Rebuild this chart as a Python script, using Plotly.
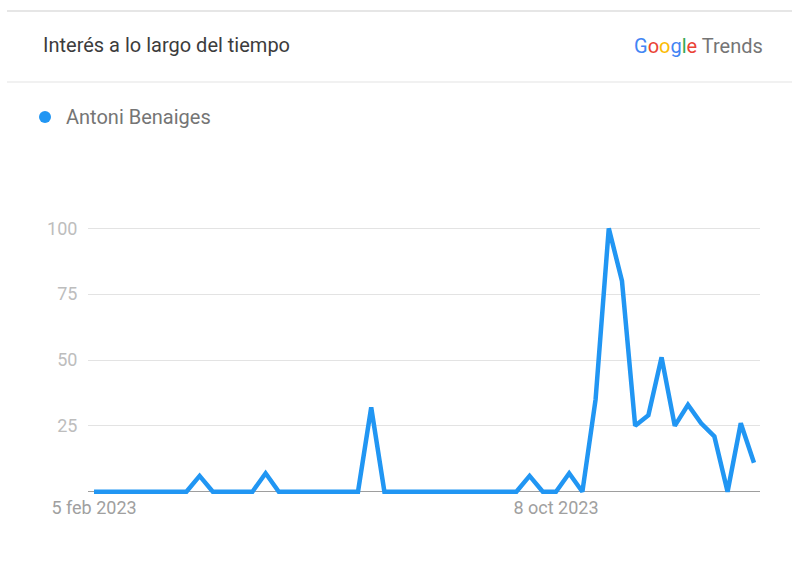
import pandas as pd
import plotly.graph_objects as go

# Weekly dates (week starting Sunday) from 5 feb 2023
weeks = pd.date_range("2023-02-05", periods=51, freq="7D")
series_name = "Antoni Benaiges"
interest = [0, 0, 0, 0, 0, 0, 0, 0, 6, 0,
            0, 0, 0, 7, 0, 0, 0, 0, 0, 0,
            0, 32, 0, 0, 0, 0, 0, 0, 0, 0,
            0, 0, 0, 6, 0, 0, 7, 0, 35, 100,
            80, 25, 29, 51, 25, 33, 26, 21, 0, 26,
            11]
y_ticks = [0, 25, 50, 75, 100]
y_tick_labels = ["", "25", "50", "75", "100"]
x_tick_dates = ["2023-02-05", "2023-10-08"]
x_tick_labels = ["5 feb 2023", "8 oct 2023"]

W, H = 792, 561
BLUE = "#2196F3"

def px(x):
    return x / W

def py(y):
    return 1 - y / H

fig = go.Figure()
fig.add_trace(go.Scatter(
    x=weeks, y=interest, mode="lines", name=series_name,
    line=dict(color=BLUE, width=4.5), showlegend=False,
    hoverinfo="x+y",
))

half = pd.Timedelta(days=3.2)
fig.update_layout(
    width=W, height=H,
    margin=dict(l=0, r=0, t=0, b=0, pad=0),
    paper_bgcolor="white", plot_bgcolor="white",
    font=dict(family="Roboto, Arial, sans-serif"),
    xaxis=dict(
        domain=[px(88), px(760)],
        range=[weeks[0] - half, weeks[-1] + half],
        tickvals=x_tick_dates, ticktext=x_tick_labels,
        showgrid=False, zeroline=False, showline=False,
        ticks="", tickfont=dict(size=18, color="#a0a0a0"),
        ticklabelstandoff=-5,
        automargin=False,
    ),
    yaxis=dict(
        domain=[py(499.6), py(220.4)],
        range=[-3, 103],
        tickvals=y_ticks, ticktext=y_tick_labels,
        showgrid=True, gridcolor="#e3e3e3", gridwidth=1,
        zeroline=True, zerolinecolor="#9e9e9e", zerolinewidth=1,
        ticks="outside", ticklen=6, tickcolor="rgba(0,0,0,0)",
        tickfont=dict(size=18, color="#bdbdbd"),
        automargin=False,
    ),
    shapes=[
        dict(type="line", xref="paper", yref="paper",
             x0=px(7), x1=1, y0=py(11), y1=py(11),
             line=dict(color="#e6e6e6", width=2)),
        dict(type="line", xref="paper", yref="paper",
             x0=px(7), x1=1, y0=py(82), y1=py(82),
             line=dict(color="#e3e3e3", width=1)),
        dict(type="circle", xref="paper", yref="paper",
             x0=px(39), x1=px(51), y0=py(111), y1=py(123),
             fillcolor=BLUE, line=dict(width=0)),
    ],
    annotations=[
        dict(text="Interés a lo largo del tiempo", xref="paper", yref="paper",
             x=px(41), y=py(45), xanchor="left", yanchor="middle",
             showarrow=False, font=dict(size=20, color="#3c3c3c")),
        dict(text=series_name, xref="paper", yref="paper",
             x=px(64), y=py(117), xanchor="left", yanchor="middle",
             showarrow=False, font=dict(size=20, color="#757575")),
        dict(text=("<span style='color:#4285F4'>G</span>"
                   "<span style='color:#EA4335'>o</span>"
                   "<span style='color:#FBBC05'>o</span>"
                   "<span style='color:#4285F4'>g</span>"
                   "<span style='color:#34A853'>l</span>"
                   "<span style='color:#EA4335'>e</span>"
                   "<span style='color:#757575'> Trends</span>"),
             xref="paper", yref="paper",
             x=px(765), y=py(46), xanchor="right", yanchor="middle",
             showarrow=False, font=dict(size=20, color="#757575")),
    ],
)

fig.write_html("out.html", config={"displayModeBar": False},
               post_script="document.body.style.margin='0';")
